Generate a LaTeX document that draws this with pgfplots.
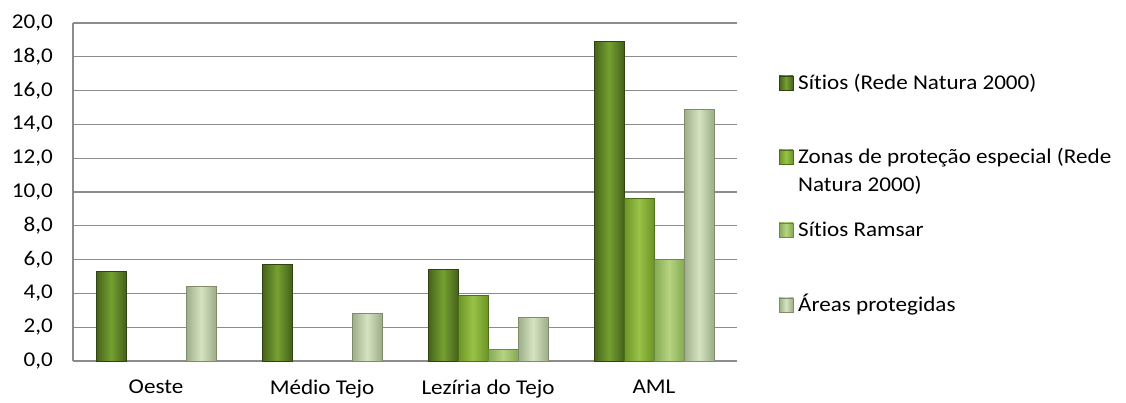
\documentclass[border=0pt]{standalone}
\usepackage{pgfplots}
\pgfplotsset{compat=1.18}
\usepackage{fontspec}
\setmainfont[FakeStretch=1.1, RawFeature={-liga;-calt;-clig;-dlig}]{Carlito}
\definecolor{aD}{HTML}{44621A}\definecolor{aL}{HTML}{76A032}\definecolor{aE}{HTML}{2F4410}
\definecolor{bD}{HTML}{6C9426}\definecolor{bL}{HTML}{98C247}\definecolor{bE}{HTML}{4E6E1A}
\definecolor{cD}{HTML}{86A954}\definecolor{cL}{HTML}{B6D47F}\definecolor{cE}{HTML}{6A8A3E}
\definecolor{dD}{HTML}{9DAD88}\definecolor{dL}{HTML}{D6E3C2}\definecolor{dE}{HTML}{7E8C6A}
\definecolor{gridc}{HTML}{8C8C8C}
\pgfplotsset{
  sA/.style={draw=aE, line width=0.6pt, left color=aD, right color=aD, middle color=aL, bar shift=-45pt},
  sB/.style={draw=bE, line width=0.6pt, left color=bD, right color=bD, middle color=bL, bar shift=-15pt},
  sC/.style={draw=cE, line width=0.6pt, left color=cD, right color=cD, middle color=cL, bar shift=15pt},
  sD/.style={draw=dE, line width=0.6pt, left color=dD, right color=dD, middle color=dL, bar shift=45pt},
}
\begin{document}
\fontsize{21pt}{25pt}\selectfont
\begin{tikzpicture}[x=1pt,y=1pt]
\useasboundingbox (0,0) rectangle (1126,403);
\begin{axis}[
  at={(73pt,42pt)}, anchor=south west,
  scale only axis, width=664pt, height=338pt,
  ymin=0, ymax=20, ytick={0,2,...,20},
  xmin=-0.5, xmax=3.5, xtick={0,1,2,3},
  xticklabels={Oeste,Médio Tejo,Lezíria do Tejo,AML},
  ybar, bar width=30pt,
  axis x line*=bottom, axis y line*=left,
  ymajorgrids, grid style={draw=gridc, line width=1.3pt},
  axis line style={draw=gridc, line width=1.3pt},
  major tick length=0pt,
  tick label style={font=\fontsize{21pt}{25pt}\selectfont},
  yticklabel style={/pgf/number format/.cd, fixed, fixed zerofill, precision=1, use comma, assume math mode=true},
  yticklabel shift=13pt,
  xticklabel shift=12pt,
  clip=false,
]
% Sitios (Rede Natura 2000)
\addplot[sA] coordinates {(0,5.3)};
\addplot[sA] coordinates {(1,5.7)};
\addplot[sA] coordinates {(2,5.4)};
\addplot[sA] coordinates {(3,18.9)};
% Zonas de protecao especial
\addplot[sB] coordinates {(2,3.9)};
\addplot[sB] coordinates {(3,9.6)};
% Sitios Ramsar
\addplot[sC] coordinates {(2,0.7)};
\addplot[sC] coordinates {(3,6.0)};
% Areas protegidas
\addplot[sD] coordinates {(0,4.4)};
\addplot[sD] coordinates {(1,2.8)};
\addplot[sD] coordinates {(2,2.6)};
\addplot[sD] coordinates {(3,14.9)};
\end{axis}
% legend
\foreach \yy/\cc in {320/a, 246/b, 173/c, 98/d}{
  \shade[draw=\cc E, line width=0.5pt, left color=\cc D, right color=\cc D, middle color=\cc L] (779,\yy-7) rectangle (793,\yy+7);
}
\node[anchor=base west, inner sep=0pt] at (798,313) {Sítios (Rede Natura 2000)};
\node[anchor=base west, inner sep=0pt] at (798,239) {Zonas de proteção especial (Rede};
\node[anchor=base west, inner sep=0pt] at (798,211) {Natura 2000)};
\node[anchor=base west, inner sep=0pt] at (798,166) {Sítios Ramsar};
\node[anchor=base west, inner sep=0pt] at (798,91) {Áreas protegidas};
\end{tikzpicture}
\end{document}
